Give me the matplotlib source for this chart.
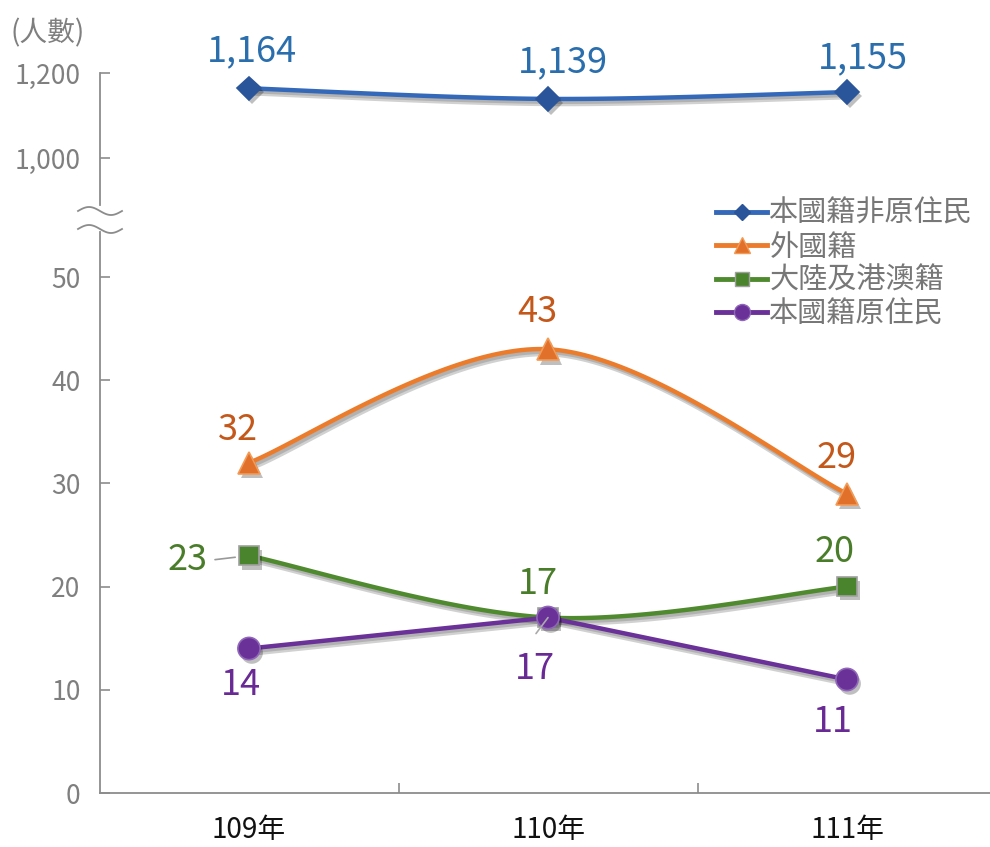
import numpy as np
import matplotlib
matplotlib.use("Agg")
import matplotlib.pyplot as plt
import matplotlib.patheffects as pe
from matplotlib.lines import Line2D

plt.rcParams['font.family'] = ['Noto Sans CJK TC', 'DejaVu Sans']

# ---- data ----
years = ["109年", "110年", "111年"]
series_names = ["本國籍非原住民", "外國籍", "大陸及港澳籍", "本國籍原住民"]
non_indigenous = [1164, 1139, 1155]
foreign = [32, 43, 29]
mainland_hkmo = [23, 17, 20]
indigenous = [14, 17, 11]
y_top_ticks = [1000, 1200]
y_bot_ticks = [0, 10, 20, 30, 40, 50]

W, H = 990, 847
fig = plt.figure(figsize=(W / 100, H / 100), dpi=100)

def frac_x(px):
    return px / W

def frac_y(py):
    return 1 - py / H

left, right = frac_x(100), frac_x(990)
ax_b = fig.add_axes([left, frac_y(793), right - left, frac_y(232) - frac_y(793)])
ax_t = fig.add_axes([left, frac_y(205), right - left, frac_y(73) - frac_y(205)])

ax_b.set_ylim(0, (793 - 232) / 10.32)
ax_t.set_ylim(1200 - (205 - 73) / 0.425, 1200)
xl = (-149 / 299, (990 - 249) / 299)
for a in (ax_b, ax_t):
    a.set_xlim(*xl)
    a.patch.set_alpha(0)
    for s in ("top", "right"):
        a.spines[s].set_visible(False)
    a.spines["left"].set_color("#8c8c8c")
    a.spines["left"].set_linewidth(1.3)
    a.tick_params(axis="y", direction="in", length=7, width=1.2, color="#8c8c8c",
                  labelsize=19, labelcolor="#7f7f7f", pad=14)
ax_t.spines["bottom"].set_visible(False)
ax_t.tick_params(axis="x", bottom=False, labelbottom=False)
ax_b.spines["bottom"].set_color("#8c8c8c")
ax_b.spines["bottom"].set_linewidth(1.3)

x = np.arange(len(years))
ax_b.set_xticks(x)
ax_b.set_xticklabels(years, fontsize=20, color="#111111", fontweight="medium")
ax_b.tick_params(axis="x", which="major", length=0, pad=16)
ax_b.set_xticks(x[:-1] + 0.5, minor=True)
ax_b.tick_params(axis="x", which="minor", direction="in", length=7, width=1.2, color="#8c8c8c")

ax_b.set_yticks(y_bot_ticks)
ax_t.set_yticks(y_top_ticks)
ax_t.set_yticklabels([f"{v:,}" for v in y_top_ticks])


def smooth(xs, ys, n=60):
    xs = np.asarray(xs, float)
    ys = np.asarray(ys, float)
    P = np.column_stack([xs, ys])
    Pe = np.vstack([P[0], P, P[-1]])
    out = []
    for i in range(len(P) - 1):
        p0, p1, p2, p3 = Pe[i], Pe[i + 1], Pe[i + 2], Pe[i + 3]
        c1 = p1 + (p2 - p0) / 6
        c2 = p2 - (p3 - p1) / 6
        t = np.linspace(0, 1, n)[:, None]
        seg = (1 - t) ** 3 * p1 + 3 * (1 - t) ** 2 * t * c1 + 3 * (1 - t) * t ** 2 * c2 + t ** 3 * p2
        out.append(seg if i == 0 else seg[1:])
    s = np.vstack(out)
    return s[:, 0], s[:, 1]

line_shadow = [pe.SimpleLineShadow(offset=(2, -3), alpha=0.18, shadow_color="k", linewidth=4.5),
               pe.SimpleLineShadow(offset=(1.5, -2), alpha=0.15, shadow_color="k"),
               pe.Normal()]
marker_shadow = [pe.SimplePatchShadow(offset=(2, -3), alpha=0.25, shadow_rgbFace="k"), pe.Normal()]

specs = [
    (ax_t, non_indigenous, "#3468b8", "D", 12, "#2b559a", "#2b559a", "#2a6ead", True),
    (ax_b, foreign, "#eb7c2c", "^", 16, "#e0702a", "#f39a55", "#c4581a", True),
    (ax_b, mainland_hkmo, "#4f8a2f", "s", 14, "#4a842c", "#a0a0a0", "#4a7d2a", True),
    (ax_b, indigenous, "#6a3198", "o", 16, "#6a3198", "#9067b8", "#6a2a95", False),
]
label_offsets = [
    [(3, 37), (15, 37), (16, 34)],
    [(-11, 33), (-11, 37), (-10, 36)],
    [(-61, -4), (-10, 34), (-12, 35)],
    [(-8, -36), (-13, -51), (-14, -43)],
]
for (a, vals, col, mk, ms, mfc, mec, lcol, sm), offs in zip(specs, label_offsets):
    if sm:
        sx, sy = smooth(x, vals)
    else:
        sx, sy = x, np.asarray(vals, float)
    a.plot(sx, sy, color=col, lw=3.2, clip_on=False, path_effects=line_shadow, zorder=3,
           solid_capstyle="round")
    a.plot(x, vals, linestyle="none", marker=mk, markersize=ms, markerfacecolor=mfc,
           markeredgecolor=mec, markeredgewidth=1.2, clip_on=False, path_effects=marker_shadow,
           zorder=4)
    for xi, v, (dx, dy) in zip(x, vals, offs):
        a.annotate(f"{v:,}", xy=(xi, v), xytext=(dx, dy), textcoords="offset pixels",
                   ha="center", va="center", fontsize=26, color=lcol, zorder=5)

# leader lines
ax_b.annotate("", xy=(x[0], mainland_hkmo[0]), xytext=(-34, -4), textcoords="offset pixels",
              xycoords="data", arrowprops=dict(arrowstyle="-", color="#999999", lw=1.2,
                                               shrinkA=0, shrinkB=10))
ax_b.annotate("", xy=(x[1], indigenous[1]), xytext=(-12, -16), textcoords="offset pixels",
              arrowprops=dict(arrowstyle="-", color="#aaaaaa", lw=1.2, shrinkA=0, shrinkB=0), zorder=6)

# axis break symbol
tt = np.linspace(0, 1, 50)
for yc in (211, 229):
    xs_ = 78 + 44 * tt
    ys_ = yc - 4 * np.sin(2 * np.pi * tt)
    fig.add_artist(Line2D(xs_ / W, 1 - ys_ / H, color="#8c8c8c", lw=1.3))

# unit label
fig.text(frac_x(48), frac_y(33), "(人數)", ha="center", va="center", fontsize=20, color="#7f7f7f")

# legend
handles = []
for (a, vals, col, mk, ms, mfc, mec, lcol, sm) in specs:
    handles.append(Line2D([], [], color=col, lw=3.5, marker=mk, markersize=ms * 0.72,
                          markerfacecolor=mfc, markeredgecolor=mec))
fig.legend(handles, series_names, loc="upper left", bbox_to_anchor=(frac_x(716), frac_y(199)),
           frameon=False, fontsize=21, labelcolor="#777777", handlelength=1.75,
           handletextpad=0.08, labelspacing=0.12, borderpad=0, borderaxespad=0)

fig.savefig("out.png", dpi=100)
